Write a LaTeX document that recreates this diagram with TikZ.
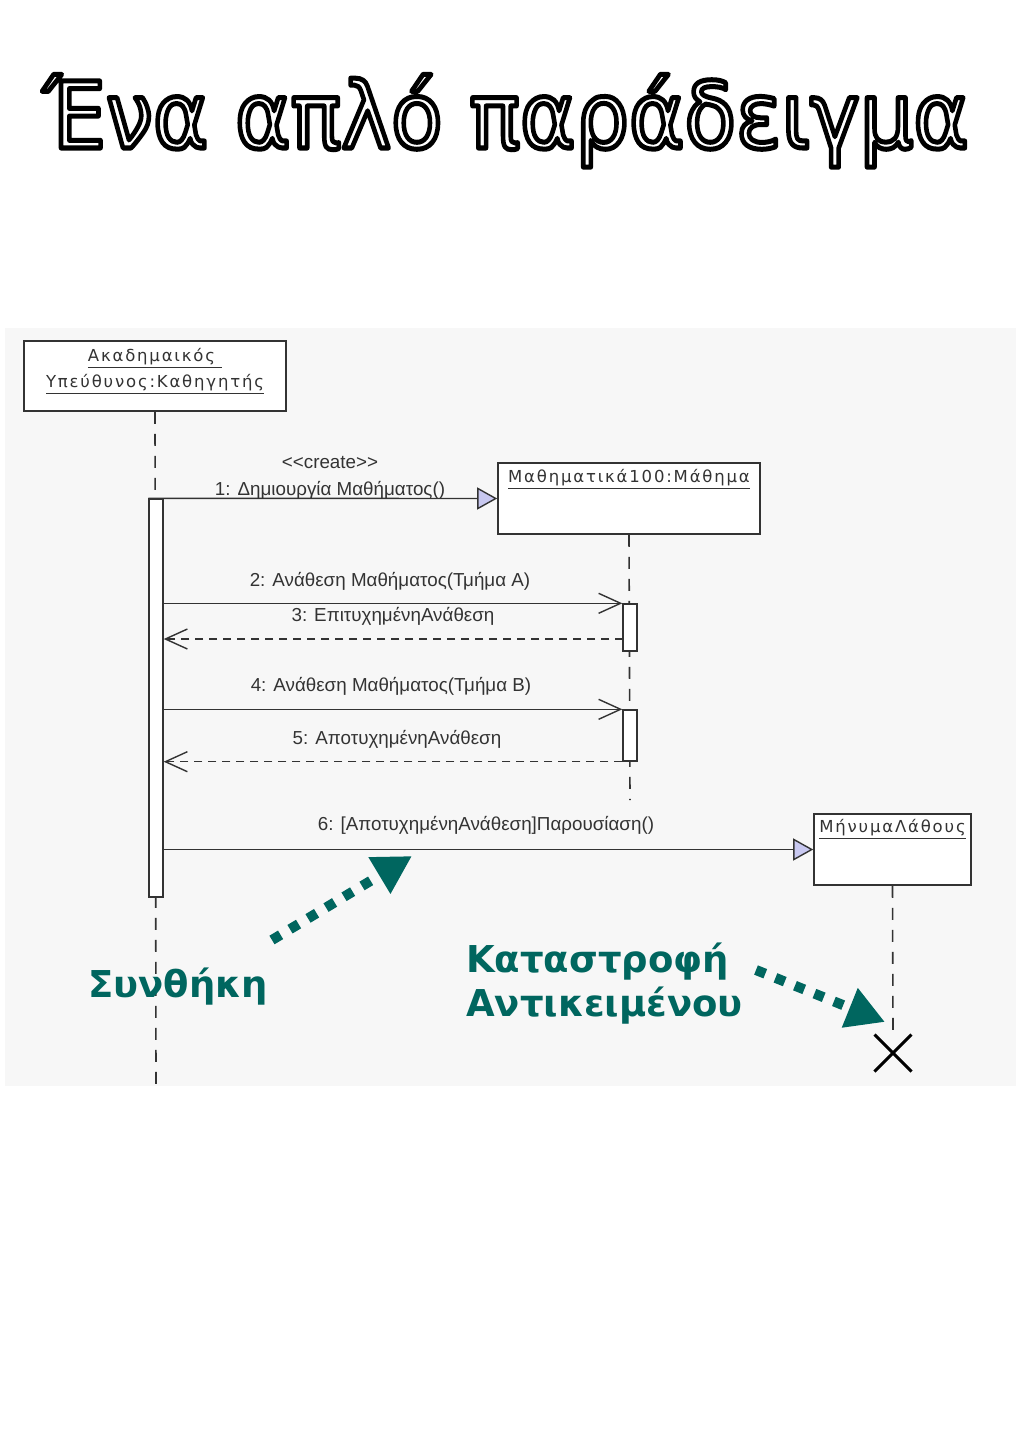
\documentclass[tikz,border=0pt]{standalone}
\usepackage{fontspec}
\usetikzlibrary{arrows.meta,shapes.misc}
\newfontfamily\titlefont{DejaVu Sans}
\newfontfamily\lblfont{Liberation Sans}
\newfontfamily\boxfont[LetterSpace=11]{DejaVu Sans}
\newfontfamily\notefont{DejaVu Sans}
\definecolor{panel}{HTML}{F7F7F7}
\definecolor{noteteal}{HTML}{00665F}
\definecolor{lav}{HTML}{C8C8F0}
\definecolor{ink}{HTML}{333333}
\newcommand{\hollowtext}[1]{\textcolor{white}{\special{pdf:literal direct 2 Tr 5 w 0 0 0 RG 1 j}#1\special{pdf:literal direct 0 Tr 1 w}}}
\begin{document}
\begin{tikzpicture}[x=1pt,y=-1pt,
  objbox/.style={draw=ink, line width=1.6pt, fill=white, inner sep=0pt},
  objlabel/.style={font=\boxfont\fontsize{16.5}{26}\selectfont, text=ink, align=center, inner sep=0pt},
  actbar/.style={draw=ink, line width=1.4pt, fill=white, minimum width=14pt, inner sep=0pt},
  lifeline/.style={draw=ink, line width=1.6pt, dash pattern=on 12pt off 10pt},
  msg/.style={draw=ink, line width=1.4pt},
  retmsg/.style={draw=ink, line width=1.4pt, dash pattern=on 8pt off 6pt},
  createtip/.style={-{Triangle[fill=lav, length=20pt, width=22pt, line width=1.4pt]}},
  calltip/.style={-{Straight Barb[length=22pt, width=20pt, line width=1.4pt]}},
  msglabel/.style={font=\lblfont\fontsize{18.8}{22}\selectfont, text=ink, inner sep=0pt},
  notelabel/.style={font=\notefont\bfseries\fontsize{37}{44}\selectfont, text=noteteal, inner sep=0pt},
  notearrow/.style={draw=noteteal, line width=10pt, dash pattern=on 10pt off 11pt,
    -{Triangle[length=38pt, width=40pt]}}
]
\useasboundingbox (0,0) rectangle (1024,1448);
\fill[white] (0,0) rectangle (1024,1448);

% title
\node[anchor=base, inner sep=0pt, xscale=0.915, transform shape, font=\titlefont\fontsize{92}{100}\selectfont] (title) at (506,148)
  {\hollowtext{Ένα απλό παράδειγμα}};

% panel
\fill[panel] (5,328) rectangle (1016,1086);

% object boxes
\node[objbox, minimum width=262pt, minimum height=70pt] (l1box) at (155,376) {};
\node[objlabel] (l1lab) at (155,371) {\underline{Ακαδημαικός\ }\\\underline{Υπεύθυνος:Καθηγητής}};
\node[objbox, minimum width=262pt, minimum height=71pt] (l2box) at (629,498.5) {};
\node[objlabel] (l2lab) at (629,479) {\underline{Μαθηματικά100:Μάθημα}};
\node[objbox, minimum width=157pt, minimum height=71pt] (l3box) at (892.5,849.5) {};
\node[objlabel] (l3lab) at (892.5,829) {\underline{ΜήνυμαΛάθους}};

% destroy mark
\node[draw=black, cross out, line width=3pt, minimum size=34pt, inner sep=0pt] (destroy) at (893,1053) {};

% lifelines
\coordinate (l1end) at (156,1088);
\coordinate (l2end) at (630,800);
\draw[lifeline] (l1box.south) -- (l1end);
\draw[lifeline] (l2box.south) -- (l2end);
\draw[lifeline] (l3box.south) -- (destroy.north);

% activation bars
\node[actbar, minimum height=398pt] (act1) at (156,698) {};
\node[actbar, minimum height=47pt] (act2a) at (630,627.5) {};
\node[actbar, minimum height=51pt] (act2b) at (630,735.5) {};

% messages
\draw[msg, createtip] (act1.north west) -- (l2box.west);
\node[msglabel] (m1a) at (330,463) {<<create>>};
\node[msglabel] (m1b) at (330,490) {1: Δημιουργία Μαθήματος()};

\draw[msg, calltip] (act1.east |- act2a.north) -- (act2a.north west);
\node[msglabel] (m2) at (390,581) {2: Ανάθεση Μαθήματος(Τμήμα A)};

\coordinate (r3s) at (623,639);
\draw[retmsg, calltip] (r3s) -- (act1.east |- r3s);
\node[msglabel] (m3) at (393,616) {3: ΕπιτυχημένηΑνάθεση};

\draw[msg, calltip] (act1.east |- act2b.north) -- (act2b.north west);
\node[msglabel] (m4) at (391,686) {4: Ανάθεση Μαθήματος(Τμήμα B)};

\draw[retmsg, calltip] (act2b.south west) -- (act1.east |- act2b.south);
\node[msglabel] (m5) at (397,739) {5: ΑποτυχημένηΑνάθεση};

\draw[msg, createtip] (act1.east |- l3box.west) -- (l3box.west);
\node[msglabel] (m6) at (486,825) {6: [ΑποτυχημένηΑνάθεση]Παρουσίαση()};

% notes
\node[notelabel, anchor=base west] (cond) at (88,997) {Συνθήκη};
\node[notelabel, anchor=base west, align=left] (destr) at (466,1016) {Καταστροφή\\Αντικειμένου};
\coordinate (n1s) at (272,940);
\coordinate (n1e) at (412,856);
\draw[notearrow] (n1s) -- (n1e);
\coordinate (n2s) at (756,970);
\coordinate (n2e) at (885,1022);
\draw[notearrow] (n2s) -- (n2e);
\end{tikzpicture}
\end{document}
